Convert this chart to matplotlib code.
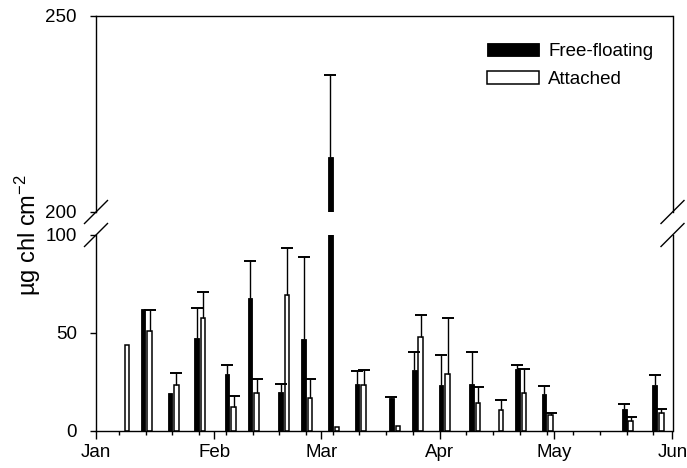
import matplotlib.pyplot as plt
import matplotlib.dates as mdates
from matplotlib.lines import Line2D
import numpy as np
import pandas as pd

plt.rcParams['font.family'] = ['Liberation Sans', 'DejaVu Sans']
plt.rcParams['mathtext.fontset'] = 'custom'
plt.rcParams['mathtext.rm'] = 'Liberation Sans'
plt.rcParams['mathtext.it'] = 'Liberation Sans:italic'

# sampling dates (weekly, 2001 calendar just for the axis)
dates = ['2001-01-08', '2001-01-14', '2001-01-21', '2001-01-28', '2001-02-05',
         '2001-02-11', '2001-02-19', '2001-02-25', '2001-03-04', '2001-03-11',
         '2001-03-20', '2001-03-26', '2001-04-02', '2001-04-10', '2001-04-16',
         '2001-04-22', '2001-04-29', '2001-05-20', '2001-05-28']

# ug chl cm-2, upper error only (0 = no bar drawn)
free = [np.nan, 62.3, 19.4, 47.3, 28.7, 68.0, 19.9, 46.8, 214.0, 24.0,
        16.6, 30.7, 23.5, 24.0, np.nan, 31.3, 18.9, 11.1, 23.2]
free_se = [0, 0, 0, 15.3, 5.0, 18.6, 4.0, 41.7, 21.0, 6.2,
           0.5, 9.3, 15.2, 16.0, 0, 2.0, 4.1, 2.2, 5.1]
attached = [43.7, 51.1, 23.5, 57.6, 12.1, 19.0, 69.1, 16.6, 1.7, 23.5,
            2.5, 47.8, 29.0, 13.9, 10.4, 19.2, 8.0, 4.9, 9.0]
attached_se = [0, 10.3, 5.9, 13.3, 5.4, 7.1, 24.3, 9.5, 0, 7.2,
               0, 11.2, 28.5, 8.1, 5.2, 12.4, 1.0, 2.1, 2.1]

days = mdates.date2num(pd.to_datetime(dates))
free = np.array(free)
free_se = np.array(free_se)
attached = np.array(attached)
attached_se = np.array(attached_se)

fig = plt.figure(figsize=(6.87, 4.68), dpi=100)
left = 96 / 687
width = 576.5 / 687
ax_top = fig.add_axes([left, 1 - 212 / 468, width, 196 / 468])
ax_bot = fig.add_axes([left, 1 - 430.5 / 468, width, 195.5 / 468])

bw = 1.2
for ax in (ax_top, ax_bot):
    b1 = ax.bar(days - 0.64, free, width=bw, color='black', edgecolor='black', linewidth=0.6)
    b2 = ax.bar(days + 1.07, attached, width=bw, color='white', edgecolor='black', linewidth=1.1)
    # one-sided error bars: stem plus a cap at the top only
    for xs, ys, es in ((days - 0.64, free, free_se), (days + 1.07, attached, attached_se)):
        m = es > 0
        ax.vlines(xs[m], ys[m], ys[m] + es[m], color='black', lw=1.0)
        ax.plot(xs[m], ys[m] + es[m], '_', color='black', ms=8.6, mew=1.4)
    ax.set_xlim(mdates.date2num(pd.Timestamp('2001-01-01')),
                mdates.date2num(pd.Timestamp('2001-06-01')))
    for s in ax.spines.values():
        s.set_linewidth(1.0)
    ax.tick_params(axis='y', direction='out', length=4.3, width=1.0, pad=9.5, labelsize=13.5)

ax_top.set_ylim(200, 250)
ax_top.set_yticks([200, 250])
ax_top.spines['bottom'].set_visible(False)
ax_top.tick_params(axis='x', which='both', bottom=False, labelbottom=False)

ax_bot.set_ylim(0, 100)
ax_bot.set_yticks([0, 50, 100])
ax_bot.spines['top'].set_visible(False)
ax_bot.xaxis.set_major_locator(mdates.MonthLocator())
ax_bot.xaxis.set_major_formatter(mdates.DateFormatter('%b'))
ax_bot.xaxis.set_minor_locator(mdates.WeekdayLocator(byweekday=mdates.SU))
ax_bot.tick_params(axis='x', which='major', direction='out', length=5.8, width=1.0, pad=4, labelsize=13.5)
ax_bot.tick_params(axis='x', which='minor', direction='out', length=2.9, width=1.0)

# break marks
dx = 11.5 / 687
dy = 11.5 / 468
for x in (left, left + width):
    for y in (1 - 212 / 468, 1 - 235 / 468):
        fig.add_artist(Line2D([x - dx, x + dx], [y - dy, y + dy], color='black', lw=1.0))

fig.text(28 / 687, 1 - 235.5 / 468, r'µg chl cm$^{-2}$', rotation=90,
         ha='center', va='center', fontsize=17)

fig.legend([b1, b2], ['Free-floating', 'Attached'], loc='upper left',
           bbox_to_anchor=(486.7 / 687, 1 - 43 / 468), bbox_transform=fig.transFigure,
           frameon=False, fontsize=13.5, borderpad=0, borderaxespad=0,
           handlelength=2.8, handleheight=0.66, handletextpad=0.48, labelspacing=0.58)

fig.savefig('out.png', dpi=100)
